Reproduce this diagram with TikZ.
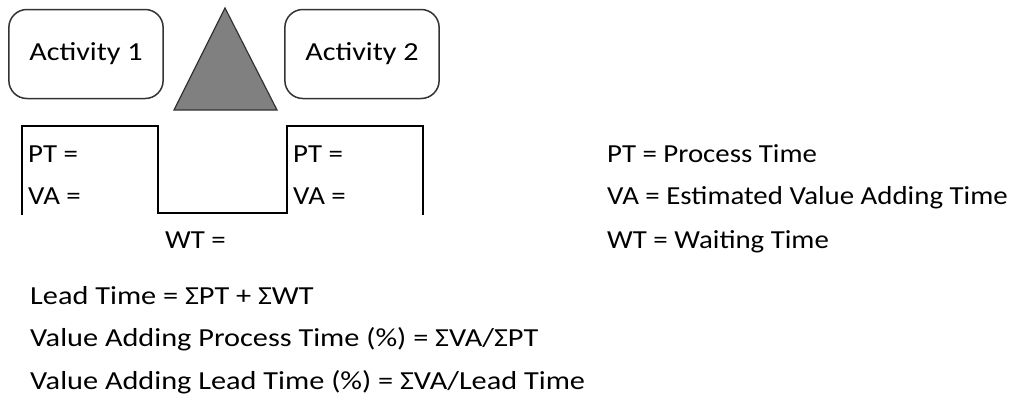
\documentclass[tikz,border=0pt]{standalone}
\usepackage{fontspec}
\setmainfont{Carlito}
\begin{document}
\begin{tikzpicture}[x=1pt,y=-1pt,
    font=\fontsize{26}{30}\selectfont,
    actbox/.style={draw=black!80,line width=1.5pt,rounded corners=18pt,xscale=1.16,
      minimum width=133pt,minimum height=89pt},
    label/.style={anchor=base west,inner sep=0pt,xscale=1.11},
    formula/.style={label,xscale=1.05}]

        \useasboundingbox (0,0) rectangle (1021,400);

        % activities and inventory
        \begin{scope}[every node/.style={actbox}]
          \node (act1) at (86,54)  {Activity 1};
          \node (act2) at (362,54) {Activity 2};
        \end{scope}
        \coordinate (top)   at (225,8);
        \coordinate (baseL) at (174,110);
        \coordinate (baseR) at (277,110);
        \draw[fill=black!50,draw=black!80,line width=1.2pt] (top) -- (baseR) -- (baseL) -- cycle;

        % timeline
        \coordinate (t0) at (22,215);
        \coordinate (t1) at (22,126);
        \coordinate (t2) at (158,126);
        \coordinate (t3) at (158,213);
        \coordinate (t4) at (287,213);
        \coordinate (t5) at (287,126);
        \coordinate (t6) at (423,126);
        \coordinate (t7) at (423,215);
        \draw[line width=2.6pt] (t0) -- (t1) -- (t2) -- (t3) -- (t4) -- (t5) -- (t6) -- (t7);

        % times
        \begin{scope}[every node/.style={label}]
          \node (pt1) at (28,162)  {PT =};
          \node (va1) at (28,204)  {VA =};
          \node (pt2) at (293,162) {PT =};
          \node (va2) at (293,204) {VA =};
          \node (wt)  at (165,248) {WT =};

          \node (kpt) at (607,162) {PT = Process Time};
          \node (kva) at (607,204) {VA = Estimated Value Adding Time};
          \node (kwt) at (607,248) {WT = Waiting Time};
        \end{scope}

        % formulas
        \begin{scope}[every node/.style={formula}]
          \node (lt)  at (30,304) {Lead Time = ΣPT + ΣWT};
          \node (vap) at (30,346) {Value Adding Process Time (\%) = ΣVA/ΣPT};
          \node (val) at (30,389) {Value Adding Lead Time (\%) = ΣVA/Lead Time};
        \end{scope}

      \end{tikzpicture}
\end{document}
